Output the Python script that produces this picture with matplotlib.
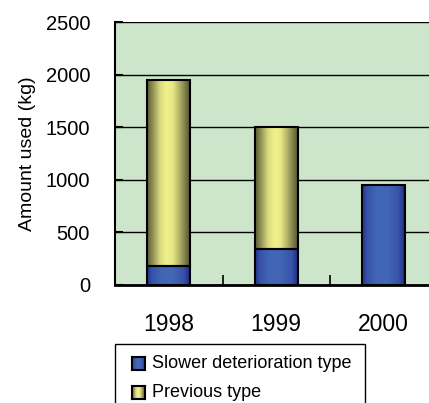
import numpy as np
import matplotlib
matplotlib.use("Agg")
import matplotlib.pyplot as plt
from matplotlib.patches import Rectangle

plt.rcParams['font.family'] = ['Liberation Sans', 'DejaVu Sans']

years = ["1998", "1999", "2000"]
slower = [180, 340, 950]
previous = [1770, 1160, 0]
series_names = ["Slower deterioration type", "Previous type"]
yticks = [0, 500, 1000, 1500, 2000, 2500]

W, H = 429, 403
fig = plt.figure(figsize=(W / 100, H / 100), dpi=100)
ax = fig.add_axes([115 / W, 1 - 285 / H, 322.5 / W, 263 / H])
ax.set_facecolor("#CDE6CB")


def gradient(light, dark, stops, levels):
    pos = np.linspace(0, 1, 80)
    prof = np.interp(pos, stops, levels)
    light = np.array(light) / 255
    dark = np.array(dark) / 255
    img = dark[None, :] + (light - dark)[None, :] * prof[:, None]
    return img[None, :, :]


blue_grad = gradient((66, 102, 182), (30, 42, 135),
                     [0, 0.12, 0.35, 0.6, 0.85, 1], [0.15, 0.7, 1, 1, 0.7, 0.05])
yellow_grad = gradient((240, 240, 140), (85, 85, 50),
                       [0, 0.1, 0.3, 0.45, 0.6, 0.8, 1], [0.05, 0.3, 0.85, 1, 0.95, 0.5, 0.0])

width = 0.4
x = np.arange(len(years))
for i in range(len(years)):
    x0 = x[i] - width / 2
    x1 = x[i] + width / 2
    segs = [(0, slower[i], blue_grad), (slower[i], slower[i] + previous[i], yellow_grad)]
    for y0, y1, g in segs:
        if y1 - y0 <= 0:
            continue
        ax.imshow(g, extent=(x0, x1, y0, y1), aspect='auto', zorder=2, interpolation='bilinear')
        ax.add_patch(Rectangle((x0, y0), width, y1 - y0, fill=False, edgecolor='black', linewidth=1.5, zorder=3))

ax.set_xlim(-0.5, 2.5)
ax.set_ylim(0, 2500)
ax.set_yticks(yticks)
ax.set_yticklabels([str(v) for v in yticks], fontsize=14.5)
ax.yaxis.grid(True, color='black', linewidth=1)
ax.set_axisbelow(True)
ax.tick_params(axis='y', direction='in', length=6, width=1.5, pad=18)
ax.set_xticks([0.5, 1.5])
ax.set_xticklabels([])
ax.set_xticks(x, minor=True)
ax.set_xticklabels(years, minor=True, fontsize=16.5)
ax.tick_params(axis='x', which='major', direction='in', length=7, width=1.2)
ax.tick_params(axis='x', which='minor', length=0, pad=20)
ax.spines['right'].set_visible(False)
ax.spines['top'].set_visible(False)
ax.spines['left'].set_linewidth(1.5)
ax.spines['bottom'].set_linewidth(2)
ax.set_ylabel("Amount used (kg)", fontsize=14)
ax.yaxis.set_label_coords(-0.245, 0.5)

# manual legend
fig.patches.append(Rectangle((115 / W, 1 - 420 / H), 250 / W, 76 / H, transform=fig.transFigure,
                             facecolor='white', edgecolor='black', linewidth=1, zorder=-5))
for k, (g, name, yc) in enumerate([(blue_grad, series_names[0], 363.5), (yellow_grad, series_names[1], 392.5)]):
    lax = fig.add_axes([132 / W, 1 - (yc + 6.5) / H, 13 / W, 13 / H])
    lax.set_zorder(5)
    lax.imshow(g, extent=(0, 1, 0, 1), aspect='auto', interpolation='bilinear')
    lax.set_xticks([])
    lax.set_yticks([])
    for sp in lax.spines.values():
        sp.set_linewidth(1.5)
    fig.text(152 / W, 1 - yc / H, name, fontsize=13, va='center', ha='left')

fig.savefig("out.png", dpi=100)
